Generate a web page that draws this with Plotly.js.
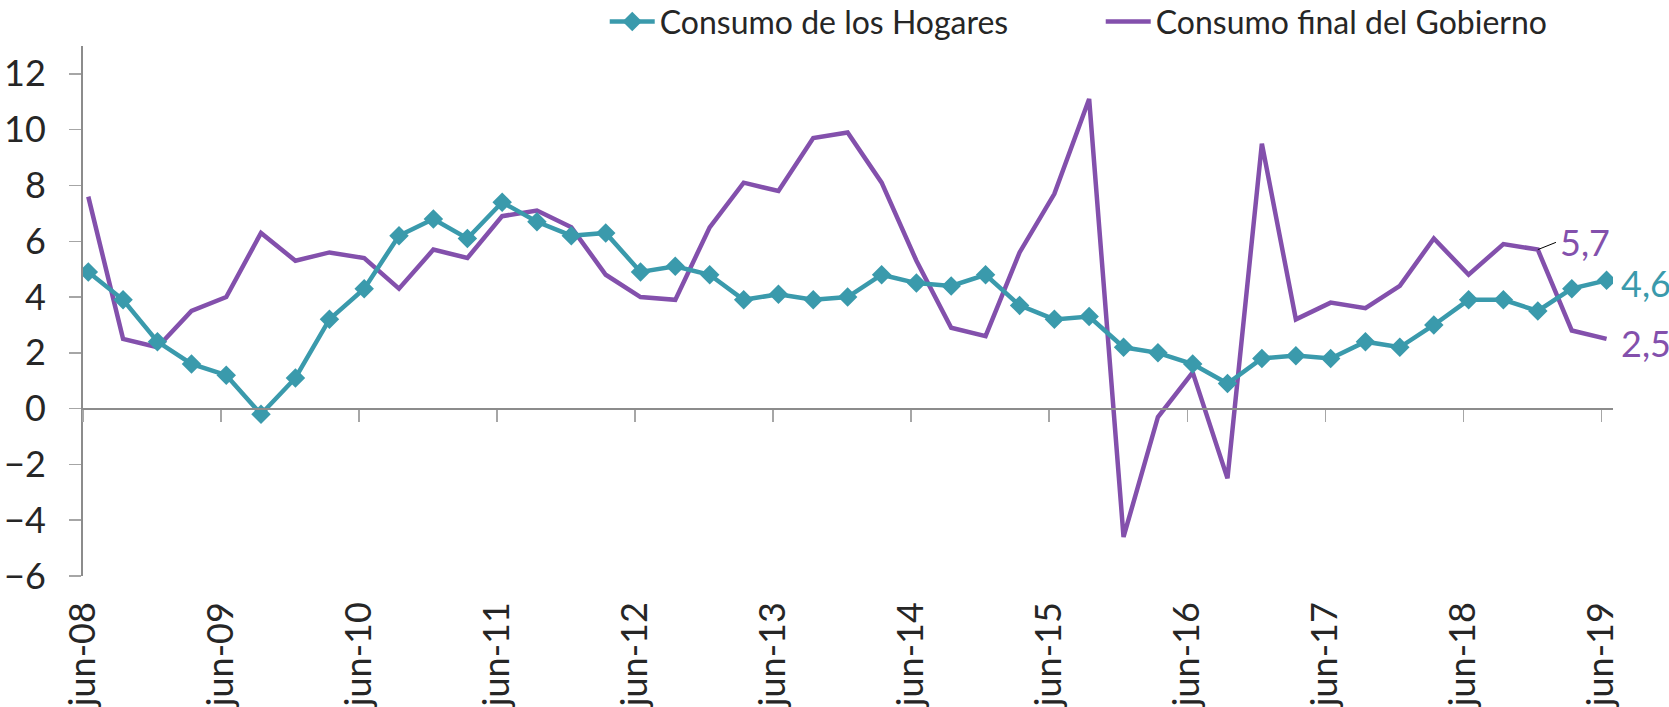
<!DOCTYPE html>
<html>
<head>
<meta charset="utf-8">
<script src="https://cdn.plot.ly/plotly-3.0.1.min.js"></script>
<style>html,body{margin:0;padding:0;background:#fff;}#chart{width:1669px;height:707px;}</style>
</head>
<body>
<div id="chart"></div>
<script>
const dates = [
  "2008-06-15","2008-09-15","2008-12-15","2009-03-15",
  "2009-06-15","2009-09-15","2009-12-15","2010-03-15",
  "2010-06-15","2010-09-15","2010-12-15","2011-03-15",
  "2011-06-15","2011-09-15","2011-12-15","2012-03-15",
  "2012-06-15","2012-09-15","2012-12-15","2013-03-15",
  "2013-06-15","2013-09-15","2013-12-15","2014-03-15",
  "2014-06-15","2014-09-15","2014-12-15","2015-03-15",
  "2015-06-15","2015-09-15","2015-12-15","2016-03-15",
  "2016-06-15","2016-09-15","2016-12-15","2017-03-15",
  "2017-06-15","2017-09-15","2017-12-15","2018-03-15",
  "2018-06-15","2018-09-15","2018-12-15","2019-03-15",
  "2019-06-15"
];
const hogares = [
  4.9, 3.9, 2.4, 1.6,
  1.2, -0.2, 1.1, 3.2,
  4.3, 6.2, 6.8, 6.1,
  7.4, 6.7, 6.2, 6.3,
  4.9, 5.1, 4.8, 3.9,
  4.1, 3.9, 4.0, 4.8,
  4.5, 4.4, 4.8, 3.7,
  3.2, 3.3, 2.2, 2.0,
  1.6, 0.9, 1.8, 1.9,
  1.8, 2.4, 2.2, 3.0,
  3.9, 3.9, 3.5, 4.3,
  4.6
];
const gobierno = [
  7.6, 2.5, 2.2, 3.5,
  4.0, 6.3, 5.3, 5.6,
  5.4, 4.3, 5.7, 5.4,
  6.9, 7.1, 6.5, 4.8,
  4.0, 3.9, 6.5, 8.1,
  7.8, 9.7, 9.9, 8.1,
  5.3, 2.9, 2.6, 5.6,
  7.7, 11.1, -4.6, -0.3,
  1.3, -2.5, 9.5, 3.2,
  3.8, 3.6, 4.4, 6.1,
  4.8, 5.9, 5.7, 2.8,
  2.5
];
const tickDates = ["2008-06-01","2009-06-01","2010-06-01","2011-06-01","2012-06-01","2013-06-01",
  "2014-06-01","2015-06-01","2016-06-01","2017-06-01","2018-06-01","2019-06-01"];
const tickLabels = ["jun-08","jun-09","jun-10","jun-11","jun-12","jun-13",
  "jun-14","jun-15","jun-16","jun-17","jun-18","jun-19"];
const yTicks = [-6,-4,-2,0,2,4,6,8,10,12];
const seriesNames = ["Consumo de los Hogares","Consumo final del Gobierno"];

const teal = "#3A9AAC";
const purple = "#8350AC";
const textColor = "#262626";
const axisColor = "#8C8C8C";
const FONT = "Lato, 'Open Sans', sans-serif";
const yRange = [-6, 13];
const xRange = ["2008-06-01", "2019-07-02"];
const fmt = v => String(v).replace(".", ",");

const n = dates.length;
const traces = [
  {
    x: dates, y: hogares, name: seriesNames[0], type: "scatter", mode: "lines+markers",
    xaxis: "x2", yaxis: "y",
    line: {color: teal, width: 4.5},
    marker: {symbol: "diamond", size: 15, color: teal}
  },
  {
    x: dates, y: gobierno, name: seriesNames[1], type: "scatter", mode: "lines",
    xaxis: "x", yaxis: "y",
    line: {color: purple, width: 4.5}
  }
];

const layout = {
  width: 1669, height: 707,
  paper_bgcolor: "#ffffff", plot_bgcolor: "#ffffff",
  margin: {l: 83, r: 56, t: 46, b: 131, autoexpand: false},
  font: {family: FONT, color: textColor, size: 36},
  showlegend: true,
  legend: {
    orientation: "h", x: 0.341, xanchor: "left", y: 1.046, yanchor: "middle",
    font: {family: FONT, size: 32, color: textColor},
    entrywidth: 436, entrywidthmode: "pixels", itemwidth: 45,
    traceorder: "normal", bgcolor: "rgba(0,0,0,0)"
  },
  xaxis: {
    type: "date", range: xRange,
    tickmode: "array", tickvals: tickDates, ticktext: tickLabels,
    tickangle: -90, ticks: "", showline: false, showgrid: false, zeroline: false,
    tickfont: {family: FONT, size: 36, color: textColor},
    ticklabelstandoff: 18
  },
  xaxis2: {
    type: "date", range: xRange, overlaying: "x", anchor: "free", position: (0 - yRange[0]) / (yRange[1] - yRange[0]),
    side: "bottom",
    tickmode: "array", tickvals: tickDates,
    showticklabels: false, ticks: "outside", ticklen: 12, tickwidth: 1.5, tickcolor: "#A6A6A6",
    showline: true, linecolor: axisColor, linewidth: 2, showgrid: false, zeroline: false
  },
  yaxis: {
    range: yRange, tickmode: "array", tickvals: yTicks,
    ticks: "outside", ticklen: 12, tickwidth: 1.5, tickcolor: "#A6A6A6",
    showline: true, linecolor: axisColor, linewidth: 2, showgrid: false, zeroline: false,
    tickfont: {family: FONT, size: 36, color: textColor},
    ticklabelstandoff: 16
  },
  annotations: [
    {xref: "x2", yref: "y", x: dates[n-1], y: hogares[n-1], text: fmt(hogares[n-1]),
     showarrow: false, xanchor: "left", yanchor: "middle", xshift: 12, yshift: -3,
     font: {family: FONT, size: 36, color: teal}},
    {xref: "x", yref: "y", x: dates[n-1], y: gobierno[n-1], text: fmt(gobierno[n-1]),
     showarrow: false, xanchor: "left", yanchor: "middle", xshift: 12, yshift: -4,
     font: {family: FONT, size: 36, color: purple}},
    {xref: "x", yref: "y", x: dates[n-3], y: gobierno[n-3], text: fmt(gobierno[n-3]),
     showarrow: true, ax: 20, ay: -8, arrowhead: 0, arrowwidth: 1, arrowcolor: "#000000",
     xanchor: "left", yanchor: "middle", standoff: 0, startstandoff: 2,
     font: {family: FONT, size: 36, color: purple}}
  ]
};

Plotly.newPlot("chart", traces, layout, {displayModeBar: false, staticPlot: true});
</script>
</body>
</html>
